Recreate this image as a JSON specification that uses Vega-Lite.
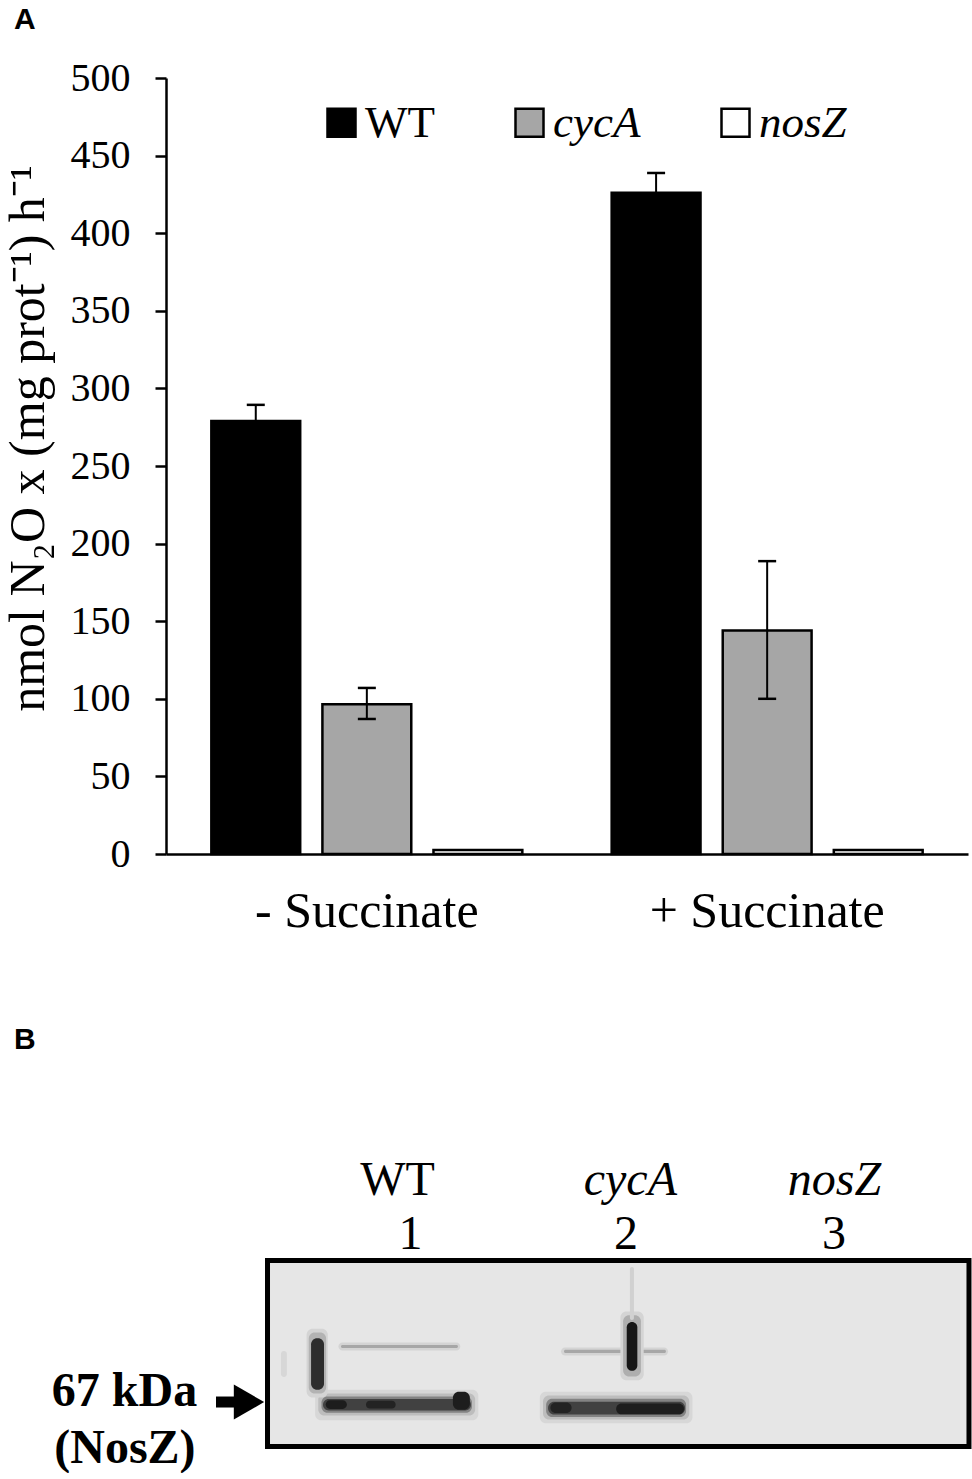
{
  "$schema": "https://vega.github.io/schema/vega-lite/v6.json",
  "background": "white",
  "padding": {"left": 3, "top": 5, "right": 0, "bottom": 0},
  "config": {"view": {"stroke": null}, "font": "Liberation Serif"},
  "spacing": 89,
  "resolve": {"scale": {"x": "independent", "y": "independent", "color": "independent", "fill": "independent"}},
  "vconcat": [
    {
      "width": 802,
      "height": 776,
      "title": {"text": "A", "anchor": "start", "frame": "group", "font": "Liberation Sans", "fontSize": 30, "fontWeight": "bold", "color": "black", "dx": -152, "offset": 23},
      "data": {
        "values": [
          {"condition": "- Succinate", "strain": "WT", "value": 279, "lo": 268.6, "hi": 289.4},
          {"condition": "- Succinate", "strain": "cycA", "value": 96.5, "lo": 87, "hi": 107},
          {"condition": "- Succinate", "strain": "nosZ", "value": 2.5},
          {"condition": "+ Succinate", "strain": "WT", "value": 426, "lo": 414, "hi": 438.8},
          {"condition": "+ Succinate", "strain": "cycA", "value": 144, "lo": 100, "hi": 188.7},
          {"condition": "+ Succinate", "strain": "nosZ", "value": 2.5}
        ]
      },
      "encoding": {
        "x": {
          "field": "condition", "type": "nominal", "sort": ["- Succinate", "+ Succinate"],
          "scale": {"paddingInner": 0.2176, "paddingOuter": 0.1105},
          "axis": {"title": null, "ticks": false, "tickSize": 0, "labelAngle": 0, "domainColor": "black", "domainWidth": 2.5,
                   "labelFont": "Liberation Serif", "labelFontSize": 50, "labelColor": "black", "labelPadding": 32, "labelLimit": 500}
        },
        "xOffset": {"field": "strain", "type": "nominal", "sort": ["WT", "cycA", "nosZ"], "scale": {"paddingInner": 0.2, "paddingOuter": 0.01}}
      },
      "layer": [
        {
          "mark": {"type": "bar", "stroke": "black", "strokeWidth": 2.5},
          "encoding": {
            "y": {
              "field": "value", "type": "quantitative", "scale": {"domain": [0, 500], "nice": false},
              "axis": {
                "title": "nmol N₂O x (mg prot⁻¹) h⁻¹",
                "values": [0, 50, 100, 150, 200, 250, 300, 350, 400, 450, 500],
                "grid": false, "tickSize": 11, "tickWidth": 2.5, "tickColor": "black",
                "domainColor": "black", "domainWidth": 2.5,
                "labelFont": "Liberation Serif", "labelFontSize": 40, "labelColor": "black", "labelPadding": 25,
                "titleFont": "Liberation Serif", "titleFontSize": 50, "titleFontWeight": "normal", "titleColor": "black",
                "titleX": -123, "titleY": 360, "titleBaseline": "alphabetic"
              }
            },
            "color": {
              "field": "strain", "type": "nominal",
              "scale": {"domain": ["WT", "cycA", "nosZ"], "range": ["#000000", "#a6a6a6", "#ffffff"]},
              "legend": {
                "title": null, "orient": "none", "direction": "horizontal", "legendX": 153, "legendY": 22, "padding": 0,
                "symbolType": "square", "symbolSize": 784, "symbolStrokeColor": "black", "symbolStrokeWidth": 2.5, "symbolOpacity": 1,
                "labelFont": "Liberation Serif", "labelFontSize": 45, "labelColor": "black", "labelOffset": 1, "columnPadding": 72,
                "labelFontStyle": {"expr": "datum.label == 'WT' ? 'normal' : 'italic'"}
              }
            }
          }
        },
        {
          "transform": [{"filter": "isValid(datum.hi)"}],
          "mark": {"type": "rule", "color": "black", "strokeWidth": 2},
          "encoding": {"y": {"field": "lo", "type": "quantitative"}, "y2": {"field": "hi"}}
        },
        {
          "transform": [{"filter": "isValid(datum.hi)"}],
          "mark": {"type": "tick", "color": "black", "thickness": 2.5, "size": 18, "opacity": 1},
          "encoding": {"y": {"field": "hi", "type": "quantitative"}}
        },
        {
          "transform": [{"filter": "isValid(datum.lo)"}],
          "mark": {"type": "tick", "color": "black", "thickness": 2.5, "size": 18, "opacity": 1},
          "encoding": {"y": {"field": "lo", "type": "quantitative"}}
        }
      ]
    },
    {
      "width": 805,
      "height": 191,
      "layer": [
        {
          "data": {"values": [{"x1": 0.3255, "x2": 3.6344, "y1": 0.0131, "y2": 0.9869, "intensity": 0}]},
          "mark": {"type": "rect", "stroke": "black", "strokeWidth": 5},
          "encoding": {
            "x": {"field": "x1", "type": "quantitative", "scale": {"domain": [-0.1533, 3.6439], "nice": false, "zero": false}, "axis": null},
            "x2": {"field": "x2"},
            "y": {"field": "y1", "type": "quantitative", "scale": {"domain": [0, 1], "reverse": true, "nice": false, "zero": false}, "axis": null},
            "y2": {"field": "y2"},
            "fill": {"field": "intensity", "type": "quantitative", "scale": {"domain": [0, 1], "range": ["#e6e6e6", "#000000"]}, "legend": null}
          }
        },
        {
          "data": {
            "values": [
              {"x1": 0.55, "x2": 1.32, "y1": 0.69, "y2": 0.85, "intensity": 0.06},
              {"x1": 0.565, "x2": 1.305, "y1": 0.71, "y2": 0.825, "intensity": 0.16},
              {"x1": 0.58, "x2": 1.29, "y1": 0.725, "y2": 0.81, "intensity": 0.4},
              {"x1": 0.5873, "x2": 1.2854, "y1": 0.738, "y2": 0.798, "intensity": 0.7},
              {"x1": 0.60, "x2": 0.70, "y1": 0.745, "y2": 0.79, "intensity": 0.88},
              {"x1": 0.79, "x2": 0.93, "y1": 0.748, "y2": 0.788, "intensity": 0.85},
              {"x1": 1.20, "x2": 1.28, "y1": 0.70, "y2": 0.795, "intensity": 0.88},
              {"x1": 0.66, "x2": 1.235, "y1": 0.442, "y2": 0.484, "intensity": 0.07},
              {"x1": 0.672, "x2": 1.224, "y1": 0.455, "y2": 0.471, "intensity": 0.25},
              {"x1": 0.51, "x2": 0.61, "y1": 0.37, "y2": 0.73, "intensity": 0.07},
              {"x1": 0.52, "x2": 0.602, "y1": 0.39, "y2": 0.71, "intensity": 0.2},
              {"x1": 0.531, "x2": 0.592, "y1": 0.42, "y2": 0.69, "intensity": 0.8},
              {"x1": 0.389, "x2": 0.417, "y1": 0.487, "y2": 0.623, "intensity": 0.06},
              {"x1": 1.61, "x2": 2.33, "y1": 0.70, "y2": 0.865, "intensity": 0.06},
              {"x1": 1.625, "x2": 2.315, "y1": 0.72, "y2": 0.845, "intensity": 0.16},
              {"x1": 1.64, "x2": 2.30, "y1": 0.737, "y2": 0.832, "intensity": 0.4},
              {"x1": 1.649, "x2": 2.295, "y1": 0.752, "y2": 0.82, "intensity": 0.7},
              {"x1": 1.66, "x2": 1.76, "y1": 0.757, "y2": 0.812, "intensity": 0.85},
              {"x1": 1.97, "x2": 2.29, "y1": 0.762, "y2": 0.818, "intensity": 0.88},
              {"x1": 1.71, "x2": 2.215, "y1": 0.468, "y2": 0.511, "intensity": 0.07},
              {"x1": 1.724, "x2": 2.205, "y1": 0.481, "y2": 0.497, "intensity": 0.25},
              {"x1": 1.99, "x2": 2.10, "y1": 0.28, "y2": 0.64, "intensity": 0.07},
              {"x1": 2.003, "x2": 2.087, "y1": 0.30, "y2": 0.62, "intensity": 0.22},
              {"x1": 2.02, "x2": 2.07, "y1": 0.335, "y2": 0.59, "intensity": 0.92},
              {"x1": 2.035, "x2": 2.054, "y1": 0.047, "y2": 0.325, "intensity": 0.08}
            ]
          },
          "mark": {"type": "rect", "cornerRadius": 6},
          "encoding": {
            "x": {"field": "x1", "type": "quantitative", "scale": {"domain": [-0.1533, 3.6439], "nice": false, "zero": false}, "axis": null},
            "x2": {"field": "x2"},
            "y": {"field": "y1", "type": "quantitative", "scale": {"domain": [0, 1], "reverse": true, "nice": false, "zero": false}, "axis": null},
            "y2": {"field": "y2"},
            "fill": {"field": "intensity", "type": "quantitative", "scale": {"domain": [0, 1], "range": ["#e6e6e6", "#000000"]}, "legend": null}
          }
        },
        {
          "data": {"values": [{"x1": 0.0825, "x2": 0.19, "head": 0.2382, "y": 0.754}]},
          "layer": [
            {
              "mark": {"type": "rule", "color": "black", "strokeWidth": 11},
              "encoding": {
                "x": {"field": "x1", "type": "quantitative", "scale": {"domain": [-0.1533, 3.6439], "nice": false, "zero": false}, "axis": null},
                "x2": {"field": "x2"},
                "y": {"field": "y", "type": "quantitative", "scale": {"domain": [0, 1], "reverse": true, "nice": false, "zero": false}, "axis": null}
              }
            },
            {
              "mark": {"type": "point", "shape": "triangle-right", "size": 1225, "filled": true, "color": "black", "opacity": 1},
              "encoding": {
                "x": {"field": "head", "type": "quantitative", "scale": {"domain": [-0.1533, 3.6439], "nice": false, "zero": false}, "axis": null},
                "y": {"field": "y", "type": "quantitative", "scale": {"domain": [0, 1], "reverse": true, "nice": false, "zero": false}, "axis": null}
              }
            }
          ]
        },
        {
          "data": {
            "values": [
              {"label": "WT", "role": "name", "x": 0.939, "y": -0.403},
              {"label": "cycA", "role": "name", "x": 2.037, "y": -0.403},
              {"label": "nosZ", "role": "name", "x": 3.0, "y": -0.403},
              {"label": "1", "role": "number", "x": 1.0, "y": -0.12},
              {"label": "2", "role": "number", "x": 2.017, "y": -0.12},
              {"label": "3", "role": "number", "x": 2.998, "y": -0.12},
              {"label": "67 kDa", "role": "marker", "x": -0.349, "y": 0.702},
              {"label": "(NosZ)", "role": "marker", "x": -0.347, "y": 1.0},
              {"label": "B", "role": "panel", "x": -0.87, "y": -1.141}
            ]
          },
          "encoding": {
            "x": {"field": "x", "type": "quantitative", "scale": {"domain": [-0.1533, 3.6439], "nice": false, "zero": false}, "axis": null},
            "y": {"field": "y", "type": "quantitative", "scale": {"domain": [0, 1], "reverse": true, "nice": false, "zero": false}, "axis": null},
            "text": {"field": "label"}
          },
          "layer": [
            {
              "transform": [{"filter": "datum.role == 'number' || datum.label == 'WT'"}],
              "mark": {"type": "text", "font": "Liberation Serif", "fontSize": 48, "color": "black", "align": "center", "baseline": "middle"}
            },
            {
              "transform": [{"filter": "datum.role == 'name' && datum.label != 'WT'"}],
              "mark": {"type": "text", "font": "Liberation Serif", "fontSize": 48, "fontStyle": "italic", "color": "black", "align": "center", "baseline": "middle"}
            },
            {
              "transform": [{"filter": "datum.role == 'marker'"}],
              "mark": {"type": "text", "font": "Liberation Serif", "fontSize": 48, "fontWeight": "bold", "color": "black", "align": "center", "baseline": "middle"}
            },
            {
              "transform": [{"filter": "datum.role == 'panel'"}],
              "mark": {"type": "text", "font": "Liberation Sans", "fontSize": 30, "fontWeight": "bold", "color": "black", "align": "left", "baseline": "middle"}
            }
          ]
        }
      ]
    }
  ]
}
